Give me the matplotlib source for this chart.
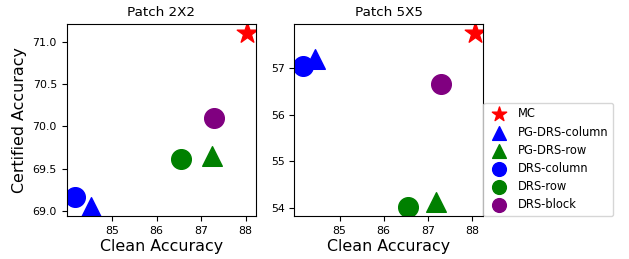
import matplotlib
matplotlib.use("Agg")
import matplotlib.pyplot as plt

METHODS = ["MC", "PG-DRS-column", "PG-DRS-row", "DRS-column", "DRS-row", "DRS-block"]
MARKERS = ["*", "^", "^", "o", "o", "o"]
COLORS = ["red", "blue", "green", "blue", "green", "purple"]

# Patch 2X2
CLEAN_2X2 = [88.04, 84.52, 87.25, 84.17, 86.55, 87.28]
CERT_2X2 = [71.11, 69.04, 69.65, 69.16, 69.61, 70.10]

# Patch 5X5
CLEAN_5X5 = [88.06, 84.44, 87.18, 84.17, 86.56, 87.30]
CERT_5X5 = [57.74, 57.19, 54.14, 57.04, 54.02, 56.65]

W, H = 629, 259
fig = plt.figure(figsize=(W / 100, H / 100), dpi=100)


def box(x0, y0, x1, y1):
    return [x0 / W, 1 - y1 / H, (x1 - x0) / W, (y1 - y0) / H]


ax1 = fig.add_axes(box(66.7, 24.3, 256, 216))
ax2 = fig.add_axes(box(294.3, 24.3, 483.3, 216))

for ax, xs, ys, title in [(ax1, CLEAN_2X2, CERT_2X2, "Patch 2X2"),
                          (ax2, CLEAN_5X5, CERT_5X5, "Patch 5X5")]:
    for name, mk, col, x, y in zip(METHODS, MARKERS, COLORS, xs, ys):
        ax.scatter(x, y, marker=mk, color=col, s=240 if mk == "*" else 200,
                   label=name)
    ax.set_title(title, fontsize=9.7)
    ax.set_xlabel("Clean Accuracy", fontsize=11.4, labelpad=2)
    ax.tick_params(labelsize=7.9)
    ax.set_xticks([85, 86, 87, 88])

ax1.set_ylabel("Certified Accuracy", fontsize=11.4)
ax2.set_yticks([54, 55, 56, 57])

ax2.legend(loc="lower left", bbox_to_anchor=(1.0, 0.0), fontsize=8.3,
           markerscale=0.7, borderaxespad=0, handletextpad=0.6,
           labelspacing=0.45)

fig.savefig("out.png", dpi=100)
